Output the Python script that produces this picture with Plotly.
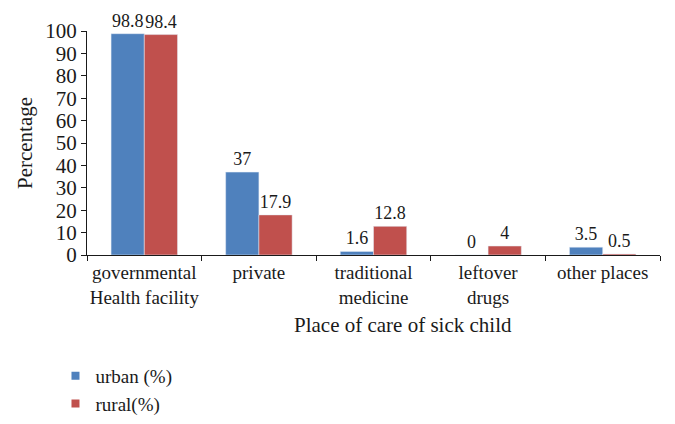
import plotly.graph_objects as go

categories = ["governmental<br>Health facility", "private", "traditional<br>medicine", "leftover<br>drugs", "other places"]
urban = [98.8, 37, 1.6, 0, 3.5]
rural = [98.4, 17.9, 12.8, 4, 0.5]
urban_labels = ["98.8", "37", "1.6", "0", "3.5"]
rural_labels = ["98.4", "17.9", "12.8", "4", "0.5"]
series_names = ["urban (%)", "rural(%)"]
series_colors = ["#4F81BD", "#C0504D"]

FONT = "Liberation Serif"
FS = 21
TXT = "#1a1a1a"

fig = go.Figure()
for vals, labels, name, color in zip([urban, rural], [urban_labels, rural_labels], series_names, series_colors):
    fig.add_trace(go.Bar(x=categories, y=vals, name=name, marker_color=color, showlegend=False,
                         text=labels, textposition="outside", cliponaxis=False,
                         textfont=dict(size=18, color=TXT, family=FONT)))
# legend entries with small square swatches
for name, color in zip(series_names, series_colors):
    fig.add_trace(go.Scatter(x=[None], y=[None], mode="markers", name=name,
                             marker=dict(symbol="square", size=8, color=color)))

fig.update_layout(
    width=675, height=424,
    margin=dict(l=87, r=15, t=31, b=169, autoexpand=False),
    paper_bgcolor="white", plot_bgcolor="white",
    barmode="group", bargap=0.42, bargroupgap=0,
    font=dict(family=FONT, size=FS, color=TXT),
    showlegend=True,
    legend=dict(x=-0.055, xanchor="left", y=-0.455, yanchor="top",
                orientation="v", font=dict(size=19, family=FONT),
                tracegroupgap=0, itemwidth=30),
)
fig.update_xaxes(showline=True, linecolor=TXT, linewidth=1.2, automargin=False, tickangle=0,
                 ticks="outside", ticklen=5, tickcolor=TXT, tickson="boundaries",
                 showgrid=False, tickfont=dict(size=19, family=FONT))
fig.update_yaxes(range=[0, 100], dtick=10, showline=True, linecolor=TXT, linewidth=1.2,
                 automargin=False,
                 ticks="outside", ticklen=5, tickcolor=TXT, showgrid=False, zeroline=False,
                 tickfont=dict(size=FS, family=FONT),
                 title=dict(text="Percentage", font=dict(size=FS, family=FONT), standoff=6))
fig.add_annotation(text="Place of care of sick child", xref="paper", yref="paper",
                   x=0.5515, y=-0.3125, xanchor="center", yanchor="middle", showarrow=False,
                   font=dict(size=FS, family=FONT, color=TXT))

fig.write_html("out.html", config={"displayModeBar": False},
               post_script="document.body.style.margin='0';")
